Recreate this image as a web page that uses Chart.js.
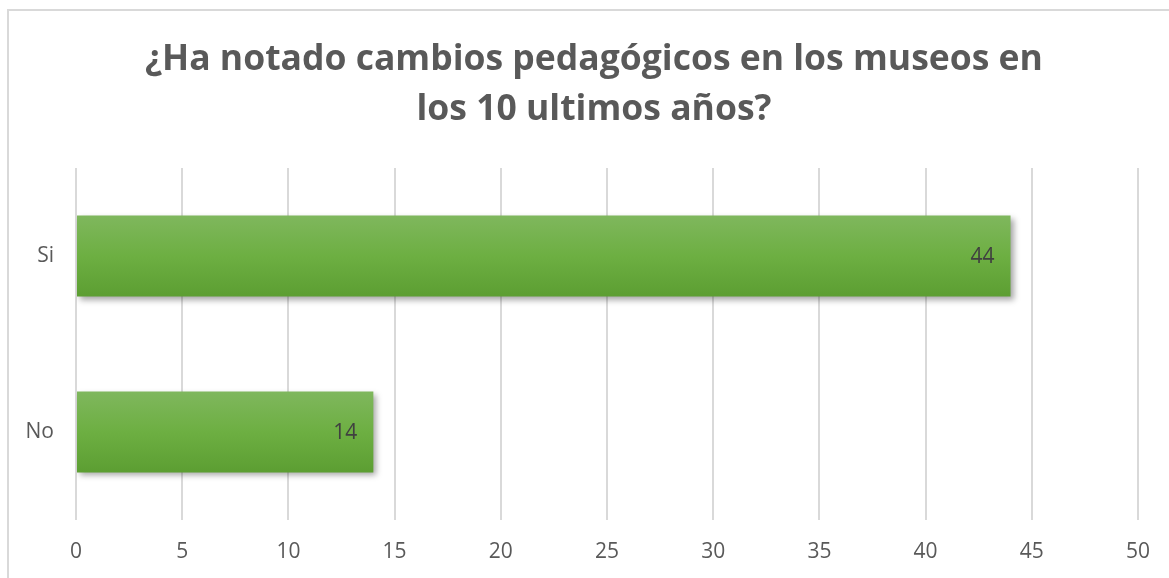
<!DOCTYPE html>
<html>
<head>
<meta charset="utf-8">
<script src="https://cdn.jsdelivr.net/npm/chart.js@4/dist/chart.umd.min.js"></script>
<style>
  html, body { margin: 0; padding: 0; background: #fff; }
  #wrap { position: absolute; left: 0; top: 0; width: 1169px; height: 578px; }
</style>
</head>
<body>
<div id="wrap"><canvas id="chart"></canvas></div>
<script>
const categories = ['Si', 'No'];
const values = [44, 14];
const titleLines = ['¿Ha notado cambios pedagógicos en los museos en', 'los 10 ultimos años?'];
const xMin = 0;
const xMax = 50;
const xStep = 5;

const textGray = '#595959';
const gridGray = '#d9d9d9';

// outer frame of the chart object (only top and left edges are visible)
const framePlugin = {
    id: 'frame',
    beforeDraw(chart) {
        const ctx = chart.ctx;
        ctx.save();
        ctx.strokeStyle = gridGray;
        ctx.lineWidth = 2;
        ctx.beginPath();
        ctx.moveTo(8, chart.height + 5);
        ctx.lineTo(8, 10);
        ctx.lineTo(chart.width + 5, 10);
        ctx.stroke();
        ctx.restore();
    }
};

// vertical gradient fill + drop shadow for each bar
const barStylePlugin = {
    id: 'barStyle',
    beforeDatasetsDraw(chart) {
        const ctx = chart.ctx;
        chart.getDatasetMeta(0).data.forEach(el => {
            const top = el.y - el.height / 2;
            const bottom = el.y + el.height / 2;
            const g = ctx.createLinearGradient(0, top, 0, bottom);
            g.addColorStop(0, '#7fb75d');
            g.addColorStop(0.5, '#6daf42');
            g.addColorStop(1, '#5c9e32');
            el.options = Object.assign({}, el.options, { backgroundColor: g });
        });
        ctx.save();
        ctx.shadowColor = 'rgba(0,0,0,0.35)';
        ctx.shadowBlur = 6;
        ctx.shadowOffsetX = 3;
        ctx.shadowOffsetY = 3;
    },
    afterDatasetsDraw(chart) {
        chart.ctx.restore();
    }
};

// value labels at the inside end of the bars
const valueLabelPlugin = {
    id: 'valueLabels',
    afterDatasetsDraw(chart) {
        const ctx = chart.ctx;
        const ds = chart.data.datasets[0];
        ctx.save();
        ctx.font = '21px "Open Sans"';
        ctx.fillStyle = '#404040';
        ctx.textAlign = 'right';
        ctx.textBaseline = 'middle';
        chart.getDatasetMeta(0).data.forEach((el, i) => {
            ctx.fillText(String(ds.data[i]), el.x - 16, el.y + 1);
        });
        ctx.restore();
    }
};

const ctx = document.getElementById('chart').getContext('2d');
const chart = new Chart(ctx, {
    type: 'bar',
    data: {
        labels: categories,
        datasets: [{
            data: values,
            backgroundColor: '#6daf42',
            borderWidth: 0,
            barPercentage: 0.46,
            categoryPercentage: 1
        }]
    },
    options: {
        indexAxis: 'y',
        responsive: true,
        maintainAspectRatio: false,
        animation: false,
        layout: {
            padding: { left: 19, right: 0, top: 0, bottom: 0 }
        },
        plugins: {
            legend: { display: false },
            tooltip: { enabled: false },
            title: {
                display: true,
                text: titleLines,
                color: textGray,
                font: { family: 'Open Sans', size: 35.5, weight: 'bold', lineHeight: 1.41 },
                padding: { top: 35, bottom: 33 }
            }
        },
        scales: {
            x: {
                min: xMin,
                max: xMax,
                ticks: {
                    stepSize: xStep,
                    color: textGray,
                    font: { family: 'Open Sans', size: 21 },
                    padding: 19
                },
                grid: { color: gridGray, lineWidth: 2, drawTicks: false },
                border: { display: false },
                afterFit(scale) { scale.height = 58; }
            },
            y: {
                ticks: {
                    color: textGray,
                    font: { family: 'Open Sans', size: 21 },
                    padding: 22
                },
                grid: { display: false, drawTicks: false },
                border: { display: false },
                afterFit(scale) { scale.width = 57; }
            },
            // empty right-hand axis that only reserves the right margin
            yRight: {
                position: 'right',
                ticks: { display: false },
                grid: { display: false, drawTicks: false },
                border: { display: false },
                afterFit(scale) { scale.width = 30; }
            }
        }
    },
    plugins: [framePlugin, barStylePlugin, valueLabelPlugin]
});
</script>
</body>
</html>
